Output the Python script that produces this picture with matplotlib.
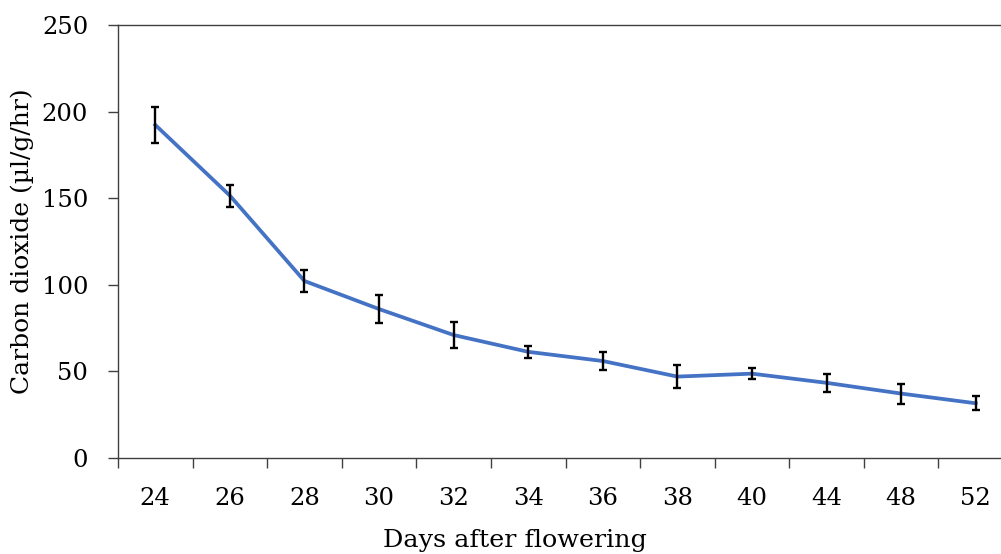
import matplotlib
matplotlib.use("Agg")
import matplotlib.pyplot as plt

days = ["24", "26", "28", "30", "32", "34", "36", "38", "40", "44", "48", "52"]
co2 = [192.3, 151.5, 102.2, 86.0, 71.0, 61.3, 56.0, 47.0, 48.7, 43.4, 37.2, 31.6]
co2_err = [10.2, 6.3, 6.2, 8.3, 7.5, 3.6, 5.0, 6.7, 3.1, 5.2, 5.8, 4.0]

plt.rcParams["font.family"] = ["DejaVu Serif"]

fig = plt.figure(figsize=(10.01, 5.54), dpi=100)
ax = fig.add_axes([118 / 1001, 96 / 554, 895 / 1001, 433 / 554])

x = list(range(len(days)))
ax.plot(x, co2, color="#4472C4", linewidth=2.7, zorder=3)
ax.errorbar(x, co2, yerr=co2_err, fmt="none", ecolor="black",
            elinewidth=1.7, capsize=3, capthick=1.7, zorder=4)

ax.set_xlim(-0.5, len(days) - 0.5)
ax.set_ylim(0, 250)
ax.set_yticks([0, 50, 100, 150, 200, 250])
ax.set_xticks(x)
ax.set_xticklabels(days)
ax.set_xticks([i - 0.5 for i in range(len(days) + 1)], minor=True)

for side in ("left", "bottom", "top"):
    ax.spines[side].set_color("#404040")
    ax.spines[side].set_linewidth(1.0)
ax.spines["right"].set_visible(False)

ax.tick_params(axis="x", which="major", length=0, pad=21, labelsize=17.5)
ax.tick_params(axis="x", which="minor", length=7.5, width=1.0, color="#404040")
ax.tick_params(axis="y", length=7.5, width=1.0, color="#404040", pad=14, labelsize=17.5)

fig.text(515 / 1001, 7 / 554, "Days after flowering", ha="center", va="baseline", fontsize=18.3)
fig.text(22 / 1001, 1 - 241 / 554, "Carbon dioxide (µl/g/hr)", rotation=90,
         ha="center", va="center", fontsize=18)

fig.savefig("out.png", dpi=100)
